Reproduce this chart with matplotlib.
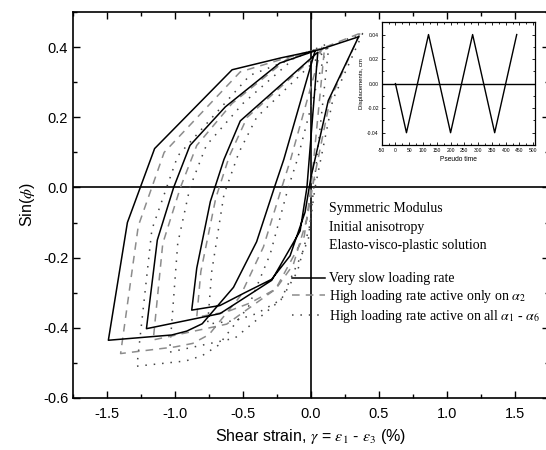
import numpy as np
import matplotlib
matplotlib.use('Agg')
import matplotlib.pyplot as plt
from matplotlib.ticker import MultipleLocator

plt.rcParams['font.family'] = ['Liberation Sans', 'DejaVu Sans']
plt.rcParams['mathtext.fontset'] = 'stix'
plt.rcParams['axes.unicode_minus'] = False

# ---- main data: Sin(phi) vs shear strain (%) ----
# very slow loading rate
slow_x = [0.35, 0.127, 0.0, -0.044, -0.154, -0.289, -0.485, -0.67, -0.877,
          -0.84, -0.74, -0.64, -0.52, 0.05,
          -0.03, -0.08, -0.289, -0.669, -1.21,
          -1.13, -1.01, -0.89, -0.63, -0.23, 0.03,
          -0.20, -0.265, -0.40, -0.57, -0.80, -0.914, -1.024, -1.49,
          -1.35, -1.15, -0.58, -0.22, 0.06, 0.35]
slow_y = [0.43, 0.248, 0.03, -0.071, -0.195, -0.262, -0.30, -0.337, -0.35,
          -0.23, -0.04, 0.08, 0.19, 0.386,
          0.0, -0.124, -0.265, -0.36, -0.403,
          -0.15, 0.0, 0.12, 0.23, 0.355, 0.39,
          0.08, 0.005, -0.155, -0.285, -0.389, -0.41, -0.421, -0.436,
          -0.10, 0.111, 0.336, 0.37, 0.393, 0.43]

# high loading rate active only on alpha_2
a2_x = [0.36, 0.14, 0.02, -0.03, -0.13, -0.26, -0.45, -0.62, -0.84,
        -0.81, -0.70, -0.60, -0.47, 0.10,
        0.0, -0.05, -0.26, -0.62, -1.16,
        -1.09, -0.96, -0.84, -0.58, -0.18, 0.08,
        -0.15, -0.215, -0.35, -0.52, -0.75, -0.87, -1.0, -1.40,
        -1.27, -1.08, -0.52, -0.18, 0.10, 0.36]
a2_y = [0.44, 0.25, 0.02, -0.09, -0.22, -0.29, -0.33, -0.355, -0.37,
        -0.24, -0.03, 0.09, 0.20, 0.40,
        0.0, -0.14, -0.29, -0.39, -0.435,
        -0.16, 0.0, 0.12, 0.24, 0.365, 0.40,
        0.08, 0.0, -0.17, -0.31, -0.42, -0.445, -0.455, -0.474,
        -0.11, 0.10, 0.33, 0.37, 0.40, 0.44]

# high loading rate active on all alpha_1 - alpha_6
all_x = [0.38, 0.16, 0.03, -0.01, -0.10, -0.22, -0.40, -0.56, -0.76,
         -0.73, -0.64, -0.53, -0.40, 0.13,
         0.02, -0.02, -0.22, -0.56, -1.04,
         -0.98, -0.89, -0.77, -0.50, -0.12, 0.12,
         -0.10, -0.167, -0.30, -0.46, -0.68, -0.80, -0.92, -1.28,
         -1.17, -0.98, -0.45, -0.12, 0.14, 0.38]
all_y = [0.44, 0.25, 0.0, -0.11, -0.24, -0.32, -0.36, -0.38, -0.39,
         -0.24, -0.02, 0.10, 0.20, 0.40,
         0.0, -0.15, -0.32, -0.43, -0.47,
         -0.16, 0.0, 0.12, 0.24, 0.37, 0.41,
         0.08, 0.0, -0.19, -0.34, -0.45, -0.48, -0.495, -0.51,
         -0.12, 0.09, 0.32, 0.37, 0.405, 0.44]

# ---- inset data: imposed displacement history ----
time_pts = [0, 40, 120, 200, 280, 360, 440]
disp_pts = [0.0, -0.04, 0.04, -0.04, 0.04, -0.04, 0.04]

fig = plt.figure(figsize=(5.46, 4.5), dpi=100)
ax = fig.add_axes([0.1337, 0.1162, 0.8718, 0.8565])

ax.axhline(0, color='black', lw=1.2, zorder=1)
ax.axvline(0, color='black', lw=1.2, zorder=1)

ax.plot(slow_x, slow_y, color='black', lw=1.1, label='Very slow loading rate', zorder=4)
ax.plot(a2_x, a2_y, color='#8c8c8c', lw=1.1, ls=(0, (5, 4)),
        label=r'High loading rate active only on $\alpha_2$', zorder=3)
ax.plot(all_x, all_y, color='#444444', lw=1.1, ls=(0, (1, 4.5)),
        label=r'High loading rate active on all $\alpha_1$ - $\alpha_6$', zorder=2)

ax.set_xlim(-1.75, 1.75)
ax.set_ylim(-0.6, 0.5)
ax.set_xticks([-1.5, -1.0, -0.5, 0.0, 0.5, 1.0, 1.5])
ax.set_yticks([-0.6, -0.4, -0.2, 0.0, 0.2, 0.4])
ax.xaxis.set_minor_locator(MultipleLocator(0.25))
ax.yaxis.set_minor_locator(MultipleLocator(0.1))
ax.tick_params(which='both', direction='in', top=True, right=True, labelsize=10.5)
ax.tick_params(which='major', length=5, width=1)
ax.tick_params(which='minor', length=3, width=1)
ax.tick_params(axis='x', pad=7)
for s in ax.spines.values():
    s.set_linewidth(1.2)

ax.set_xlabel(r'Shear strain, $\gamma$ = $\varepsilon_1$ - $\varepsilon_3$ (%)', fontsize=11.5)
ax.set_ylabel(r'Sin($\phi$)', fontsize=11.5)

serif = {'family': 'Liberation Serif', 'size': 10}
ax.text(0.538, 0.490, 'Symmetric Modulus', transform=ax.transAxes, fontdict=serif, va='center')
ax.text(0.538, 0.441, 'Initial anisotropy', transform=ax.transAxes, fontdict=serif, va='center')
ax.text(0.538, 0.396, 'Elasto-visco-plastic solution', transform=ax.transAxes, fontdict=serif, va='center')

leg = ax.legend(loc='upper left', bbox_to_anchor=(0.46, 0.325), frameon=False,
                prop={'family': 'Liberation Serif', 'size': 10},
                handlelength=2.4, handletextpad=0.3, labelspacing=0.2,
                borderpad=0, borderaxespad=0)

# inset
ins = fig.add_axes([0.699, 0.6778, 0.2802, 0.2727])
ins.axhline(0, color='black', lw=1.0)
ins.plot(time_pts, disp_pts, color='black', lw=1.0)
ins.set_xlim(-50, 505)
ins.set_ylim(-0.05, 0.05)
ins.set_xticks(np.arange(-50, 501, 50))
ins.set_yticks([-0.04, -0.02, 0.0, 0.02, 0.04])
ins.set_yticklabels(['-0.04', '-0.02', '0.00', '0.02', '0.04'])
ins.xaxis.set_minor_locator(MultipleLocator(25))
ins.yaxis.set_minor_locator(MultipleLocator(0.01))
ins.tick_params(which='both', direction='in', top=True, right=True, labelsize=3.6, pad=2)
ins.tick_params(which='major', length=2.5, width=0.6)
ins.tick_params(which='minor', length=1.5, width=0.6)
for s in ins.spines.values():
    s.set_linewidth(0.9)
ins.set_xlabel('Pseudo time', fontsize=4.8, labelpad=2)
ins.set_ylabel('Displacements, cm', fontsize=4.3, labelpad=2)

fig.savefig('out.png', dpi=100)
